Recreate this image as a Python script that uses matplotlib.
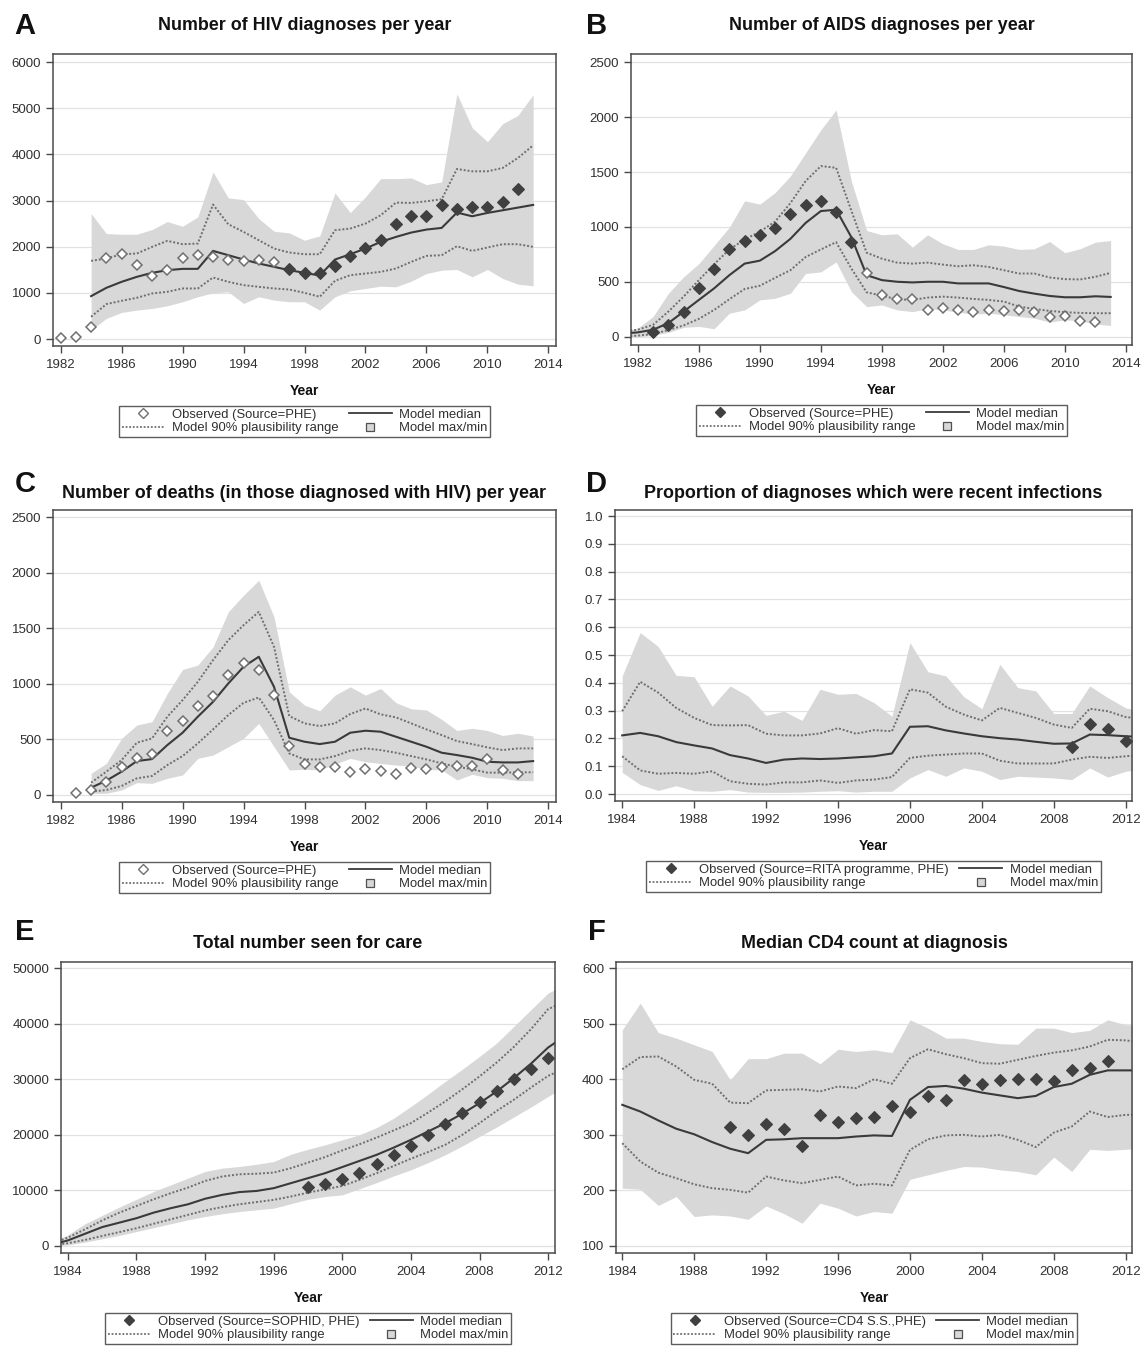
import matplotlib
matplotlib.use('Agg')
import matplotlib.pyplot as plt
from matplotlib.lines import Line2D
from matplotlib.ticker import FormatStrFormatter

plt.rcParams['font.family'] = ['Liberation Sans', 'DejaVu Sans']

# ---------------- DATA ----------------
# Panel A: HIV diagnoses per year
A_years = list(range(1984, 2014))
A_med = [930, 1110, 1240, 1348, 1435, 1492, 1521, 1521, 1910, 1817, 1723, 1637, 1565, 1492, 1435,
         1377, 1723, 1838, 1961, 2105, 2213, 2307, 2372, 2408, 2740, 2660, 2733, 2790, 2848, 2906]
A_hi = [1694, 1745, 1838, 1853, 1997, 2127, 2055, 2069, 2913, 2487, 2322, 2141, 1961, 1875, 1838,
        1838, 2358, 2394, 2502, 2682, 2956, 2949, 2985, 3028, 3684, 3634, 3634, 3706, 3922, 4196]
A_lo = [483, 757, 829, 894, 988, 1024, 1096, 1096, 1334, 1240, 1168, 1132, 1096, 1074, 1002,
        916, 1262, 1384, 1420, 1456, 1528, 1673, 1802, 1817, 2012, 1910, 1983, 2055, 2055, 1997]
A_max = [2718, 2285, 2271, 2271, 2372, 2545, 2444, 2646, 3619, 3057, 3021, 2610, 2336, 2300, 2141,
         2235, 3165, 2740, 3079, 3475, 3475, 3490, 3345, 3403, 5314, 4578, 4275, 4665, 4845, 5292]
A_min = [195, 447, 577, 627, 663, 721, 808, 916, 1002, 1024, 772, 916, 844, 808, 808,
         627, 916, 1045, 1096, 1146, 1132, 1254, 1420, 1492, 1507, 1348, 1507, 1312, 1190, 1154]
A_obs_years = list(range(1982, 2013))
A_obs = [15, 35, 252, 1766, 1838, 1615, 1377, 1507, 1766, 1831, 1788, 1716, 1694, 1716, 1680,
         1514, 1435, 1442, 1586, 1802, 1975, 2148, 2487, 2675, 2675, 2906, 2812, 2855, 2855, 2970, 3259]
A_obs_filled = [y >= 1997 for y in A_obs_years]

# Panel B: AIDS diagnoses per year
B_years = list(range(1981, 2014))
B_med = [30, 42, 66, 126, 231, 337, 442, 562, 667, 694, 781, 892, 1037, 1145, 1157, 907, 562,
         517, 502, 496, 502, 502, 487, 487, 487, 454, 418, 394, 373, 361, 361, 370, 364]
B_hi = [45, 66, 111, 231, 367, 517, 661, 796, 886, 958, 1049, 1217, 1418, 1554, 1538, 1148, 766,
        712, 676, 667, 676, 658, 643, 652, 637, 607, 577, 577, 541, 526, 523, 547, 583]
B_lo = [5, 12, 27, 63, 105, 165, 246, 343, 436, 466, 538, 607, 727, 796, 862, 622, 406,
        376, 343, 337, 358, 367, 358, 346, 337, 322, 276, 255, 237, 225, 219, 216, 216]
B_max = [50, 81, 186, 397, 547, 667, 832, 998, 1238, 1208, 1313, 1463, 1674, 1884, 2064, 1418, 968,
         929, 938, 817, 929, 847, 796, 796, 838, 826, 796, 802, 868, 766, 802, 862, 877]
B_min = [0, 0, 15, 42, 87, 96, 75, 216, 246, 337, 352, 397, 577, 592, 682, 412, 276,
         291, 246, 231, 255, 246, 225, 207, 216, 201, 186, 171, 135, 156, 147, 117, 105]
B_obs_years = list(range(1983, 2013))
B_obs = [45, 111, 231, 442, 616, 796, 874, 931, 995, 1115, 1196, 1232, 1133, 862, 583, 382, 343,
         349, 243, 261, 243, 228, 243, 237, 243, 228, 186, 195, 147, 138]
B_obs_filled = [y <= 1996 for y in B_obs_years]

# Panel C: deaths in those diagnosed with HIV
C_years = list(range(1984, 2014))
C_med = [66, 129, 210, 305, 323, 449, 560, 704, 838, 1003, 1153, 1243, 973, 515, 479,
         458, 479, 560, 578, 569, 524, 479, 434, 380, 359, 335, 299, 293, 293, 305]
C_hi = [111, 210, 314, 470, 509, 704, 853, 1018, 1213, 1392, 1527, 1647, 1332, 710, 644,
        620, 644, 728, 778, 725, 698, 644, 590, 539, 485, 458, 428, 404, 419, 419]
C_lo = [30, 45, 81, 150, 171, 269, 350, 464, 590, 719, 829, 877, 674, 374, 320,
        320, 350, 398, 419, 404, 380, 350, 320, 284, 254, 231, 201, 201, 204, 204]
C_max = [195, 284, 509, 629, 659, 913, 1129, 1168, 1332, 1647, 1796, 1931, 1602, 928, 808,
         757, 898, 973, 898, 958, 830, 775, 765, 680, 580, 600, 580, 535, 555, 530]
C_min = [15, 15, 45, 111, 105, 150, 180, 329, 359, 434, 509, 644, 434, 225, 231,
         225, 278, 329, 299, 284, 269, 260, 231, 225, 135, 186, 156, 150, 129, 129]
C_obs_years = list(range(1983, 2013))
C_obs = [21, 45, 120, 249, 329, 368, 578, 668, 799, 892, 1078, 1189, 1123, 898, 443, 275, 249,
         249, 210, 231, 216, 186, 240, 231, 249, 260, 260, 320, 225, 189]
C_obs_filled = [False] * len(C_obs_years)

# Panel D: proportion of diagnoses which were recent infections
D_years = list(range(1984, 2014))
D_med = [0.211, 0.220, 0.208, 0.187, 0.175, 0.164, 0.140, 0.128, 0.112, 0.124, 0.128, 0.126, 0.128,
         0.132, 0.136, 0.146, 0.242, 0.244, 0.229, 0.218, 0.208, 0.201, 0.196, 0.188, 0.181, 0.182,
         0.214, 0.212, 0.208, 0.205]
D_hi = [0.298, 0.404, 0.365, 0.310, 0.274, 0.248, 0.247, 0.248, 0.217, 0.211, 0.211, 0.218, 0.237,
        0.217, 0.230, 0.226, 0.377, 0.365, 0.314, 0.286, 0.265, 0.310, 0.292, 0.274, 0.250, 0.238,
        0.307, 0.298, 0.277, 0.270]
D_lo = [0.136, 0.085, 0.073, 0.076, 0.073, 0.082, 0.046, 0.037, 0.034, 0.042, 0.042, 0.049, 0.040,
        0.049, 0.052, 0.061, 0.130, 0.138, 0.142, 0.146, 0.146, 0.120, 0.110, 0.110, 0.110, 0.124,
        0.134, 0.130, 0.136, 0.141]
D_max = [0.425, 0.581, 0.531, 0.427, 0.422, 0.316, 0.389, 0.353, 0.283, 0.298, 0.265, 0.377, 0.359,
         0.362, 0.329, 0.280, 0.545, 0.440, 0.425, 0.350, 0.307, 0.467, 0.383, 0.371, 0.290, 0.290,
         0.389, 0.347, 0.310, 0.298]
D_min = [0.078, 0.034, 0.013, 0.030, 0.012, 0.010, 0.016, 0.007, 0.006, 0.006, 0.007, 0.010, 0.012,
         0.007, 0.010, 0.010, 0.058, 0.088, 0.064, 0.094, 0.082, 0.052, 0.064, 0.061, 0.058, 0.052,
         0.094, 0.061, 0.082, 0.090]
D_obs_years = [2009, 2010, 2011, 2012]
D_obs = [0.170, 0.253, 0.235, 0.190]
D_obs_filled = [True] * 4

# Panel E: total number seen for care
E_years = list(range(1983, 2014))
E_med = [200, 1000, 2200, 3400, 4200, 5000, 6000, 6800, 7500, 8500, 9200, 9700, 9900, 10400, 11300,
         12200, 13100, 14200, 15300, 16400, 17700, 19100, 20600, 22100, 23800, 25700, 27800, 30200,
         32800, 35700, 37800]
E_hi = [400, 1500, 3000, 4600, 6000, 7200, 8400, 9500, 10500, 11700, 12500, 12900, 13000, 13200,
        14000, 15000, 16000, 17200, 18300, 19500, 20800, 22100, 24000, 26000, 28200, 30500, 33000,
        35800, 39000, 42600, 44000]
E_lo = [100, 500, 1100, 1800, 2500, 3200, 4000, 4800, 5600, 6400, 7000, 7500, 7900, 8300, 8900,
        9600, 10200, 10800, 11900, 13100, 14400, 15700, 16900, 18200, 20000, 22100, 24300, 26300,
        28500, 30600, 32000]
E_max = [600, 2000, 4000, 5500, 7000, 8400, 9800, 11000, 12200, 13400, 14000, 14300, 14700, 15200,
         16500, 17400, 18200, 19100, 20000, 21300, 23000, 25100, 27300, 29600, 31800, 34100, 36500,
         39500, 42500, 45500, 47000]
E_min = [0, 200, 700, 1300, 1900, 2600, 3300, 4000, 4700, 5300, 5800, 6200, 6500, 6800, 7600, 8400,
         8900, 9200, 10300, 11400, 12600, 13700, 15000, 16400, 18000, 19700, 21400, 23200, 25000,
         26900, 28700]
E_obs_years = list(range(1998, 2013))
E_obs = [10680, 11100, 12060, 13200, 14700, 16300, 18000, 20000, 21970, 24000, 25900, 27800,
         30000, 31800, 33900]
E_obs_filled = [True] * len(E_obs_years)

# Panel F: median CD4 count at diagnosis
F_years = list(range(1984, 2014))
F_med = [354, 342, 326, 311, 301, 287, 275, 267, 291, 292, 294, 294, 294, 297, 299, 298, 363, 386,
         388, 383, 376, 371, 366, 370, 386, 392, 408, 416, 416, 416]
F_hi = [418, 440, 441, 423, 399, 392, 358, 357, 380, 381, 382, 378, 387, 384, 400, 392, 438, 454,
        445, 438, 429, 428, 435, 442, 448, 452, 459, 471, 470, 466]
F_lo = [285, 252, 232, 222, 211, 204, 201, 196, 225, 218, 213, 219, 225, 209, 212, 209, 273, 292,
        299, 300, 297, 300, 291, 278, 304, 315, 342, 332, 336, 336]
F_max = [489, 537, 484, 474, 462, 450, 399, 437, 437, 447, 447, 428, 454, 450, 453, 448, 507, 492,
         474, 474, 468, 464, 463, 492, 492, 484, 488, 507, 498, 497]
F_min = [204, 202, 173, 189, 153, 156, 154, 148, 172, 158, 141, 177, 168, 154, 162, 159, 220, 228,
         236, 243, 242, 237, 234, 228, 260, 234, 274, 272, 274, 276]
F_obs_years = list(range(1990, 2012))
F_obs = [315, 300, 320, 310, 280, 336, 323, 331, 333, 351, 341, 370, 362, 399, 392, 399, 400, 400,
         396, 416, 420, 432]
F_obs_filled = [True] * len(F_obs_years)

TITLES = ["Number of HIV diagnoses per year",
          "Number of AIDS diagnoses per year",
          "Number of deaths (in those diagnosed with HIV) per year",
          "Proportion of diagnoses which were recent infections",
          "Total number seen for care",
          "Median CD4 count at diagnosis"]
LETTERS = ["A", "B", "C", "D", "E", "F"]
OBS_LABELS = ["Observed (Source=PHE)", "Observed (Source=PHE)", "Observed (Source=PHE)",
              "Observed (Source=RITA programme, PHE)", "Observed (Source=SOPHID, PHE)",
              "Observed (Source=CD4 S.S.,PHE)"]
LEGEND_OBS_FILLED = [False, True, False, True, True, True]
XTICKS_ABC = list(range(1982, 2015, 4))
XTICKS_DEF = list(range(1984, 2013, 4))

# ---------------- STYLE / LAYOUT ----------------
W, H = 1144, 1347
fig = plt.figure(figsize=(W / 100, H / 100), dpi=100)

BAND = '#d8d8d8'
MED = '#3a3a3a'
DOT = '#6e6e6e'
MARK = '#404040'
OPEN = '#707070'
SPINE = '#4a4a4a'


def frect(l, t, r, b):
    return [l / W, 1 - b / H, (r - l) / W, (b - t) / H]


panels = [
    dict(rect=(53, 54, 556, 346), lxy=(25, 26), ty=26, xlim=(1981.5, 2014.5), ylim=(-150, 6175),
         yt=list(range(0, 6001, 1000)), xt=XTICKS_ABC, fmt=None),
    dict(rect=(631, 54, 1132, 345), lxy=(597, 26), ty=26, xlim=(1981.55, 2014.4), ylim=(-73, 2573),
         yt=list(range(0, 2501, 500)), xt=XTICKS_ABC, fmt=None),
    dict(rect=(53, 510, 556, 802), lxy=(25, 484), ty=493, xlim=(1981.5, 2014.5), ylim=(-63, 2563),
         yt=list(range(0, 2501, 500)), xt=XTICKS_ABC, fmt=None),
    dict(rect=(615, 510, 1132, 801), lxy=(597, 484), ty=493, xlim=(1983.6, 2012.35), ylim=(-0.025, 1.022),
         yt=[i / 10 for i in range(11)], xt=XTICKS_DEF, fmt='%.1f'),
    dict(rect=(61, 962, 555, 1253), lxy=(25, 932), ty=943, xlim=(1983.6, 2012.4), ylim=(-1260, 51080),
         yt=list(range(0, 50001, 10000)), xt=XTICKS_DEF, fmt=None),
    dict(rect=(616, 962, 1132, 1253), lxy=(597, 932), ty=943, xlim=(1983.65, 2012.35), ylim=(87.4, 611),
         yt=list(range(100, 601, 100)), xt=XTICKS_DEF, fmt=None),
]

series = [
    (A_years, A_med, A_hi, A_lo, A_max, A_min, A_obs_years, A_obs, A_obs_filled),
    (B_years, B_med, B_hi, B_lo, B_max, B_min, B_obs_years, B_obs, B_obs_filled),
    (C_years, C_med, C_hi, C_lo, C_max, C_min, C_obs_years, C_obs, C_obs_filled),
    (D_years, D_med, D_hi, D_lo, D_max, D_min, D_obs_years, D_obs, D_obs_filled),
    (E_years, E_med, E_hi, E_lo, E_max, E_min, E_obs_years, E_obs, E_obs_filled),
    (F_years, F_med, F_hi, F_lo, F_max, F_min, F_obs_years, F_obs, F_obs_filled),
]

DOTSTYLE = (0, (1.0, 1.0))

for i, (p, s) in enumerate(zip(panels, series)):
    yrs, med, hi, lo, mx, mn, oy, ov, of = s
    l, t, r, b = p['rect']
    ax = fig.add_axes(frect(l, t, r, b))
    ax.set_axisbelow(True)
    ax.yaxis.grid(True, color='#e2e2e2', lw=0.9, zorder=0)
    ax.fill_between(yrs, mn, mx, color=BAND, lw=0, zorder=1)
    ax.plot(yrs, hi, color=DOT, lw=1.4, ls=DOTSTYLE, zorder=2)
    ax.plot(yrs, lo, color=DOT, lw=1.4, ls=DOTSTYLE, zorder=2)
    ax.plot(yrs, med, color=MED, lw=1.5, zorder=3)
    fx = [x for x, f in zip(oy, of) if f]
    fv = [v for v, f in zip(ov, of) if f]
    ox = [x for x, f in zip(oy, of) if not f]
    ovv = [v for v, f in zip(ov, of) if not f]
    if fx:
        ax.plot(fx, fv, ls='none', marker='D', ms=6, mfc=MARK, mec=MARK, mew=0.8, zorder=4)
    if ox:
        ax.plot(ox, ovv, ls='none', marker='D', ms=5.5, mfc='white', mec=OPEN, mew=1.1, zorder=4)
    ax.set_xlim(*p['xlim'])
    ax.set_ylim(*p['ylim'])
    ax.set_xticks(p['xt'])
    ax.set_yticks(p['yt'])
    if p['fmt']:
        ax.yaxis.set_major_formatter(FormatStrFormatter(p['fmt']))
    ax.tick_params(axis='both', direction='out', length=5, width=1, color=SPINE,
                   labelsize=9.5, labelcolor='#303030')
    ax.tick_params(axis='x', pad=4.5)
    ax.tick_params(axis='y', pad=3.5)
    for sp in ax.spines.values():
        sp.set_color(SPINE)
        sp.set_linewidth(1.1)
    cx = (l + r) / 2
    fig.text(cx / W, 1 - p['ty'] / H, TITLES[i], ha='center', va='center',
             fontsize=12.9, fontweight='bold', color='#111111')
    fig.text(p['lxy'][0] / W, 1 - p['lxy'][1] / H, LETTERS[i], ha='center', va='center',
             fontsize=21, fontweight='bold', color='#111111')
    fig.text(cx / W, 1 - (b + 45) / H, 'Year', ha='center', va='center',
             fontsize=10, fontweight='bold', color='#111111')
    if LEGEND_OBS_FILLED[i]:
        h_obs = Line2D([], [], ls='none', marker='D', ms=5, mfc=MARK, mec=MARK)
    else:
        h_obs = Line2D([], [], ls='none', marker='D', ms=5, mfc='white', mec=OPEN, mew=1.0)
    h_rng = Line2D([], [], color=DOT, lw=1.3, ls=DOTSTYLE)
    h_med = Line2D([], [], color=MED, lw=1.3)
    h_mm = Line2D([], [], ls='none', marker='s', ms=6, mfc=BAND, mec='#505050', mew=0.9)
    leg = ax.legend([h_obs, h_rng, h_med, h_mm],
                    [OBS_LABELS[i], 'Model 90% plausibility range', 'Model median', 'Model max/min'],
                    ncol=2, loc='upper center', bbox_to_anchor=(cx / W, 1 - (b + 60) / H),
                    bbox_transform=fig.transFigure, fontsize=9.4, frameon=True, fancybox=False,
                    edgecolor='#333333', handlelength=3.3, handletextpad=0.55, columnspacing=0.8,
                    borderpad=0.2, labelspacing=0.1, borderaxespad=0)
    leg.get_frame().set_linewidth(1.0)
    for txt in leg.get_texts():
        txt.set_color('#303030')

fig.savefig('out.png', dpi=100, facecolor='white')
